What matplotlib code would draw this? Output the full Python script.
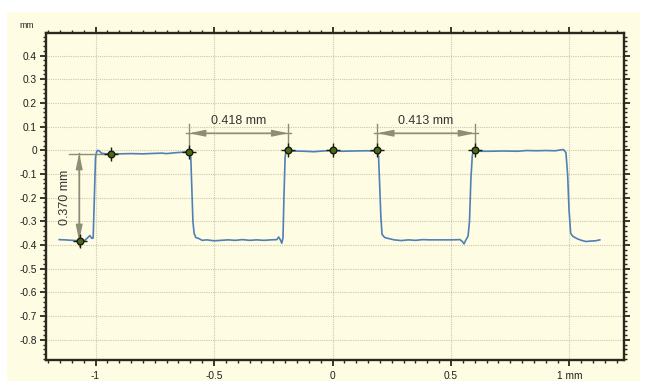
import matplotlib
matplotlib.use("Agg")
import matplotlib.pyplot as plt
from matplotlib.ticker import MultipleLocator, FixedLocator, FixedFormatter
from matplotlib.patches import Rectangle

plt.rcParams['font.family'] = ['Liberation Sans', 'DejaVu Sans']

# profile trace (mm)
prof_x = [-1.153, -1.13, -1.10, -1.066, -1.045, -1.032, -1.024, -1.015, -1.010, -1.005,
          -1.000, -0.995, -0.990, -0.984, -0.975, -0.96, -0.935, -0.90, -0.85, -0.80,
          -0.75, -0.72, -0.70, -0.66, -0.63, -0.612, -0.605, -0.598, -0.594, -0.589,
          -0.584, -0.577, -0.565, -0.55, -0.53, -0.50, -0.47, -0.44, -0.41, -0.38,
          -0.35, -0.32, -0.29, -0.26, -0.235, -0.227, -0.22, -0.214, -0.209, -0.205,
          -0.200, -0.196, -0.187, -0.17, -0.12, -0.08, -0.04, 0.0, 0.04, 0.09,
          0.14, 0.17, 0.189, 0.194, 0.198, 0.204, 0.209, 0.22, 0.235, 0.26,
          0.29, 0.32, 0.35, 0.38, 0.41, 0.45, 0.50, 0.538, 0.548, 0.555,
          0.562, 0.572, 0.578, 0.584, 0.590, 0.598, 0.62, 0.66, 0.72, 0.78,
          0.82, 0.86, 0.90, 0.94, 0.965, 0.975, 0.985, 0.992, 0.998, 1.005,
          1.013, 1.03, 1.05, 1.07, 1.09, 1.11, 1.128]
prof_y = [-0.377, -0.378, -0.380, -0.382, -0.380, -0.368, -0.360, -0.372, -0.370, -0.200,
          -0.030, -0.005, 0.000, -0.003, -0.012, -0.015, -0.014, -0.015, -0.014, -0.015,
          -0.013, -0.012, -0.014, -0.010, -0.008, -0.005, -0.006, -0.030, -0.150, -0.300,
          -0.350, -0.368, -0.372, -0.380, -0.378, -0.382, -0.380, -0.378, -0.380, -0.377,
          -0.380, -0.378, -0.380, -0.378, -0.377, -0.366, -0.378, -0.392, -0.370, -0.200,
          -0.030, 0.000, 0.003, -0.003, -0.004, -0.006, -0.003, 0.000, -0.004, -0.003,
          -0.002, -0.003, 0.000, -0.020, -0.120, -0.280, -0.355, -0.368, -0.372, -0.378,
          -0.381, -0.378, -0.380, -0.377, -0.378, -0.378, -0.378, -0.377, -0.385, -0.395,
          -0.380, -0.362, -0.300, -0.120, -0.020, 0.000, -0.004, -0.004, -0.003, -0.004,
          -0.001, -0.002, -0.001, -0.002, 0.002, 0.003, -0.010, -0.100, -0.250, -0.350,
          -0.362, -0.372, -0.380, -0.385, -0.383, -0.382, -0.378]

# measurement points
mk_x = [-1.066, -0.935, -0.605, -0.187, 0.0, 0.189, 0.601]
mk_y = [-0.382, -0.014, -0.006, 0.003, 0.0, 0.0, 0.0]

# horizontal dimensions: start, end, label
hdim_x0 = [-0.605, 0.189]
hdim_x1 = [-0.187, 0.601]
hdim_lbl = ["0.418 mm", "0.413 mm"]

# vertical dimension
vdim_x = -1.069
vdim_top = -0.012
vdim_bot = -0.382
vdim_lbl = "0.370 mm"

yticks = [0.4, 0.3, 0.2, 0.1, 0, -0.1, -0.2, -0.3, -0.4, -0.5, -0.6, -0.7, -0.8]
ytick_lbl = ["0.4", "0.3", "0.2", "0.1", "0", "-0.1", "-0.2", "-0.3", "-0.4",
             "-0.5", "-0.6", "-0.7", "-0.8"]
xticks = [-1, -0.5, 0, 0.5, 1]
xtick_lbl = ["-1", "-0.5", "0", "0.5", "1 mm"]

cream = '#fefce2'
dimc = '#8e8e78'
frame = '#2a2a1c'

fig = plt.figure(figsize=(6.47, 3.81), dpi=100)
fig.patch.set_facecolor('white')
fig.add_artist(Rectangle((7/647, 0), 633/647, 369/381, transform=fig.transFigure,
                         facecolor=cream, edgecolor='none', zorder=0))
ax = fig.add_axes([46/647, 1-360/381, 578/647, 327/381])
ax.set_facecolor(cream)

ax.set_xlim(-1.209, 1.230)
ax.set_ylim(-0.885, 0.495)

ax.xaxis.set_major_locator(FixedLocator(xticks))
ax.xaxis.set_major_formatter(FixedFormatter(xtick_lbl))
ax.xaxis.set_minor_locator(MultipleLocator(0.05))
ax.yaxis.set_major_locator(FixedLocator(yticks))
ax.yaxis.set_major_formatter(FixedFormatter(ytick_lbl))
ax.yaxis.set_minor_locator(MultipleLocator(0.02))

ax.tick_params(which='both', direction='out', top=True, right=True,
               color=frame, labelsize=7.3, labelcolor='#1e1e1e')
ax.tick_params(which='major', length=4.5, width=1.3, pad=2)
ax.tick_params(axis='x', which='major', pad=3.5)
ax.tick_params(which='minor', length=2.5, width=1.0)
for s in ax.spines.values():
    s.set_color(frame)
    s.set_linewidth(1.7)

ax.grid(True, which='major', linestyle=(0, (1, 1)), color='#c9c8b0', linewidth=0.8)
ax.set_axisbelow(True)

ax.plot(prof_x, prof_y, color='#4f80b8', linewidth=1.2, zorder=3)

# horizontal dimensions
for x0, x1, lbl in zip(hdim_x0, hdim_x1, hdim_lbl):
    y0 = mk_y[mk_x.index(x0)]
    y1 = mk_y[mk_x.index(x1)]
    ax.plot([x0, x0], [y0, 0.112], color=dimc, lw=1, zorder=4)
    ax.plot([x1, x1], [y1, 0.112], color=dimc, lw=1, zorder=4)
    ax.plot([x0 - 0.012, x1 + 0.012], [0.072, 0.072], color=dimc, lw=1, zorder=4)
    ax.annotate('', xy=(x1, 0.072), xytext=(x0, 0.072),
                arrowprops=dict(arrowstyle='<|-|>,head_length=0.95,head_width=0.2',
                                color=dimc, lw=1, shrinkA=0, shrinkB=0), zorder=4)
    ax.text((x0 + x1) / 2, 0.123, lbl, ha='center', va='center', fontsize=9,
            color='#333333', zorder=5)

# vertical dimension
ax.plot([-1.112, -0.935], [-0.014, -0.014], color=dimc, lw=1, zorder=4)
ax.plot([vdim_x, vdim_x], [vdim_top, -0.405], color=dimc, lw=1, zorder=4)
ax.annotate('', xy=(vdim_x, vdim_top), xytext=(vdim_x, vdim_bot),
            arrowprops=dict(arrowstyle='<|-|>,head_length=0.95,head_width=0.2',
                            color=dimc, lw=1, shrinkA=0, shrinkB=0), zorder=4)
ax.text(-1.128, (vdim_top + vdim_bot) / 2, vdim_lbl, rotation=90, ha='center',
        va='center', fontsize=9, color='#333333', zorder=5)

# markers
ax.plot(mk_x, mk_y, linestyle='none', marker='+', markersize=10, mew=1,
        color='#1a1a10', zorder=6)
ax.plot(mk_x, mk_y, linestyle='none', marker='o', markersize=4.8, mew=1,
        markerfacecolor='#4a6a14', markeredgecolor='#1a1a10', zorder=7)

fig.text(19/647, 1-25/381, 'mm', fontsize=6.3, color='#222222', va='center')

fig.savefig('out.png', dpi=100, facecolor=fig.get_facecolor())
